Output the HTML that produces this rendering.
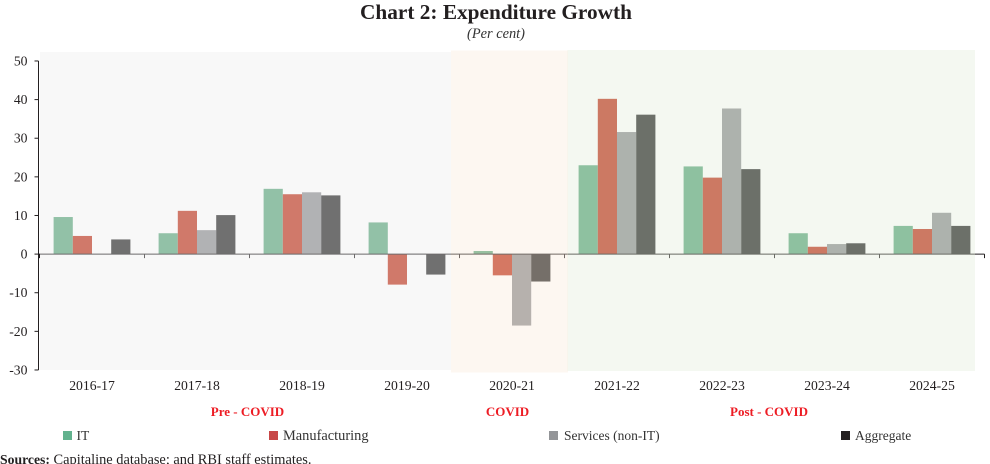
<!DOCTYPE html>
<html lang="en">
<head>
<meta charset="utf-8">
<title>Chart 2: Expenditure Growth</title>
<style>
html,body{margin:0;padding:0;background:#fff;width:990px;height:464px;overflow:hidden}
svg{display:block;font-family:"Liberation Serif",serif}
</style>
</head>
<body>
<svg id="chart" width="990" height="464" viewBox="0 0 990 464" xmlns="http://www.w3.org/2000/svg">
<text x="496" y="19" text-anchor="middle" font-size="21.3" font-weight="bold" fill="#231f20">Chart 2: Expenditure Growth</text>
<text x="496" y="38" text-anchor="middle" font-size="14.4" font-style="italic" fill="#333">(Per cent)</text>
<g id="bars"></g>
<g id="axes"></g>
<rect x="40" y="52" width="411" height="318" fill="rgb(236,236,236)" fill-opacity="0.37"/>
<rect x="451" y="50.5" width="117" height="322" fill="rgb(250,233,217)" fill-opacity="0.37"/>
<rect x="567.5" y="50" width="407.5" height="321" fill="rgb(225,236,217)" fill-opacity="0.37"/>
<g id="labels" font-size="13.7" fill="#231f20"></g>
<g font-size="13" font-weight="bold" fill="#ed1c24" text-anchor="middle">
<text x="247.500" y="416">Pre - COVID</text>
<text x="507.500" y="416">COVID</text>
<text x="769" y="416">Post - COVID</text>
</g>
<g font-size="13.5" fill="#333">
<rect x="63" y="431" width="9" height="9" fill="#62b28e"/>
<text x="76.500" y="440">IT</text>
<rect x="269" y="431" width="9" height="9" fill="#c84747"/>
<text x="283" y="440" font-size="14.4">Manufacturing</text>
<rect x="549" y="431" width="9" height="9" fill="#939598"/>
<text x="564" y="440">Services (non-IT)</text>
<rect x="841" y="431" width="9" height="9" fill="#231f20"/>
<text x="855" y="440">Aggregate</text>
</g>
<text x="0" y="464" font-size="14.4" fill="#231f20"><tspan font-weight="bold" font-size="13.7">Sources:</tspan> Capitaline database; and RBI staff estimates.</text>
</svg>
<script>
const categories = ["2016-17","2017-18","2018-19","2019-20","2020-21","2021-22","2022-23","2023-24","2024-25"];
const itValues = [9.6,5.4,16.9,8.2,0.8,23.0,22.7,5.4,7.3];
const manufacturingValues = [4.7,11.2,15.5,-7.9,-5.5,40.2,19.8,1.9,6.5];
const servicesValues = [0,6.2,16.0,0.1,-18.5,31.6,37.7,2.6,10.7];
const aggregateValues = [3.8,10.1,15.2,-5.3,-7.1,36.1,22.0,2.8,7.3];
const yTicks = [50,40,30,20,10,0,-10,-20,-30];

const NS = "http://www.w3.org/2000/svg";
const X0 = 39.5, STEP = 105, BAR = 19.2;
const yScale = v => 254.1 - v * 3.8625;
const xScale = i => X0 + STEP * i;
const mk = (tag, attrs) => {
  const n = document.createElementNS(NS, tag);
  for (const k in attrs) n.setAttribute(k, attrs[k]);
  return n;
};
const barsG = document.getElementById("bars");
const axesG = document.getElementById("axes");
const labelsG = document.getElementById("labels");
const seriesList = [
  {key:"it", values:itValues, color:"#5ea87f"},
  {key:"manufacturing", values:manufacturingValues, color:"#c0361f"},
  {key:"services", values:servicesValues, color:"#8f9094"},
  {key:"aggregate", values:aggregateValues, color:"#282828"}
];
seriesList.forEach((s, si) => {
  s.values.forEach((v, i) => {
    const top = Math.min(yScale(v), yScale(0));
    const h = Math.abs(yScale(v) - yScale(0));
    const x = xScale(i) + STEP / 2 + (si - 2) * BAR;
    const r = mk("rect", {x:x, y:top, width:BAR, height:h, fill:s.color});
    
    
    barsG.appendChild(r);
  });
});
const yAxis = mk("line", {x1:38.5, x2:38.5, y1:yScale(50), y2:yScale(-30), stroke:"#231f20", "stroke-width":1});


axesG.appendChild(yAxis);
const xAxis = mk("line", {x1:38.5, x2:xScale(categories.length), y1:yScale(0), y2:yScale(0), stroke:"#231f20", "stroke-width":1});


axesG.appendChild(xAxis);
yTicks.forEach(t => {
  const tick = mk("line", {x1:34.5, x2:38.5, y1:yScale(t), y2:yScale(t), stroke:"#231f20", "stroke-width":1});
  
  
  axesG.appendChild(tick);
  const label = mk("text", {x:27.5, y:yScale(t) + 4.5, "text-anchor":"end"});
  
  
  label.textContent = String(t);
  labelsG.appendChild(label);
});
for (let i = 0; i <= categories.length; i++) {
  const tick = mk("line", {x1:xScale(i), x2:xScale(i), y1:yScale(0), y2:yScale(0) + 4, stroke:"#231f20", "stroke-width":1});
  
  
  axesG.appendChild(tick);
}
categories.forEach((c, i) => {
  const label = mk("text", {x:xScale(i) + STEP / 2, y:390, "text-anchor":"middle"});
  
  
  label.textContent = c;
  labelsG.appendChild(label);
});
</script>
</body>
</html>
